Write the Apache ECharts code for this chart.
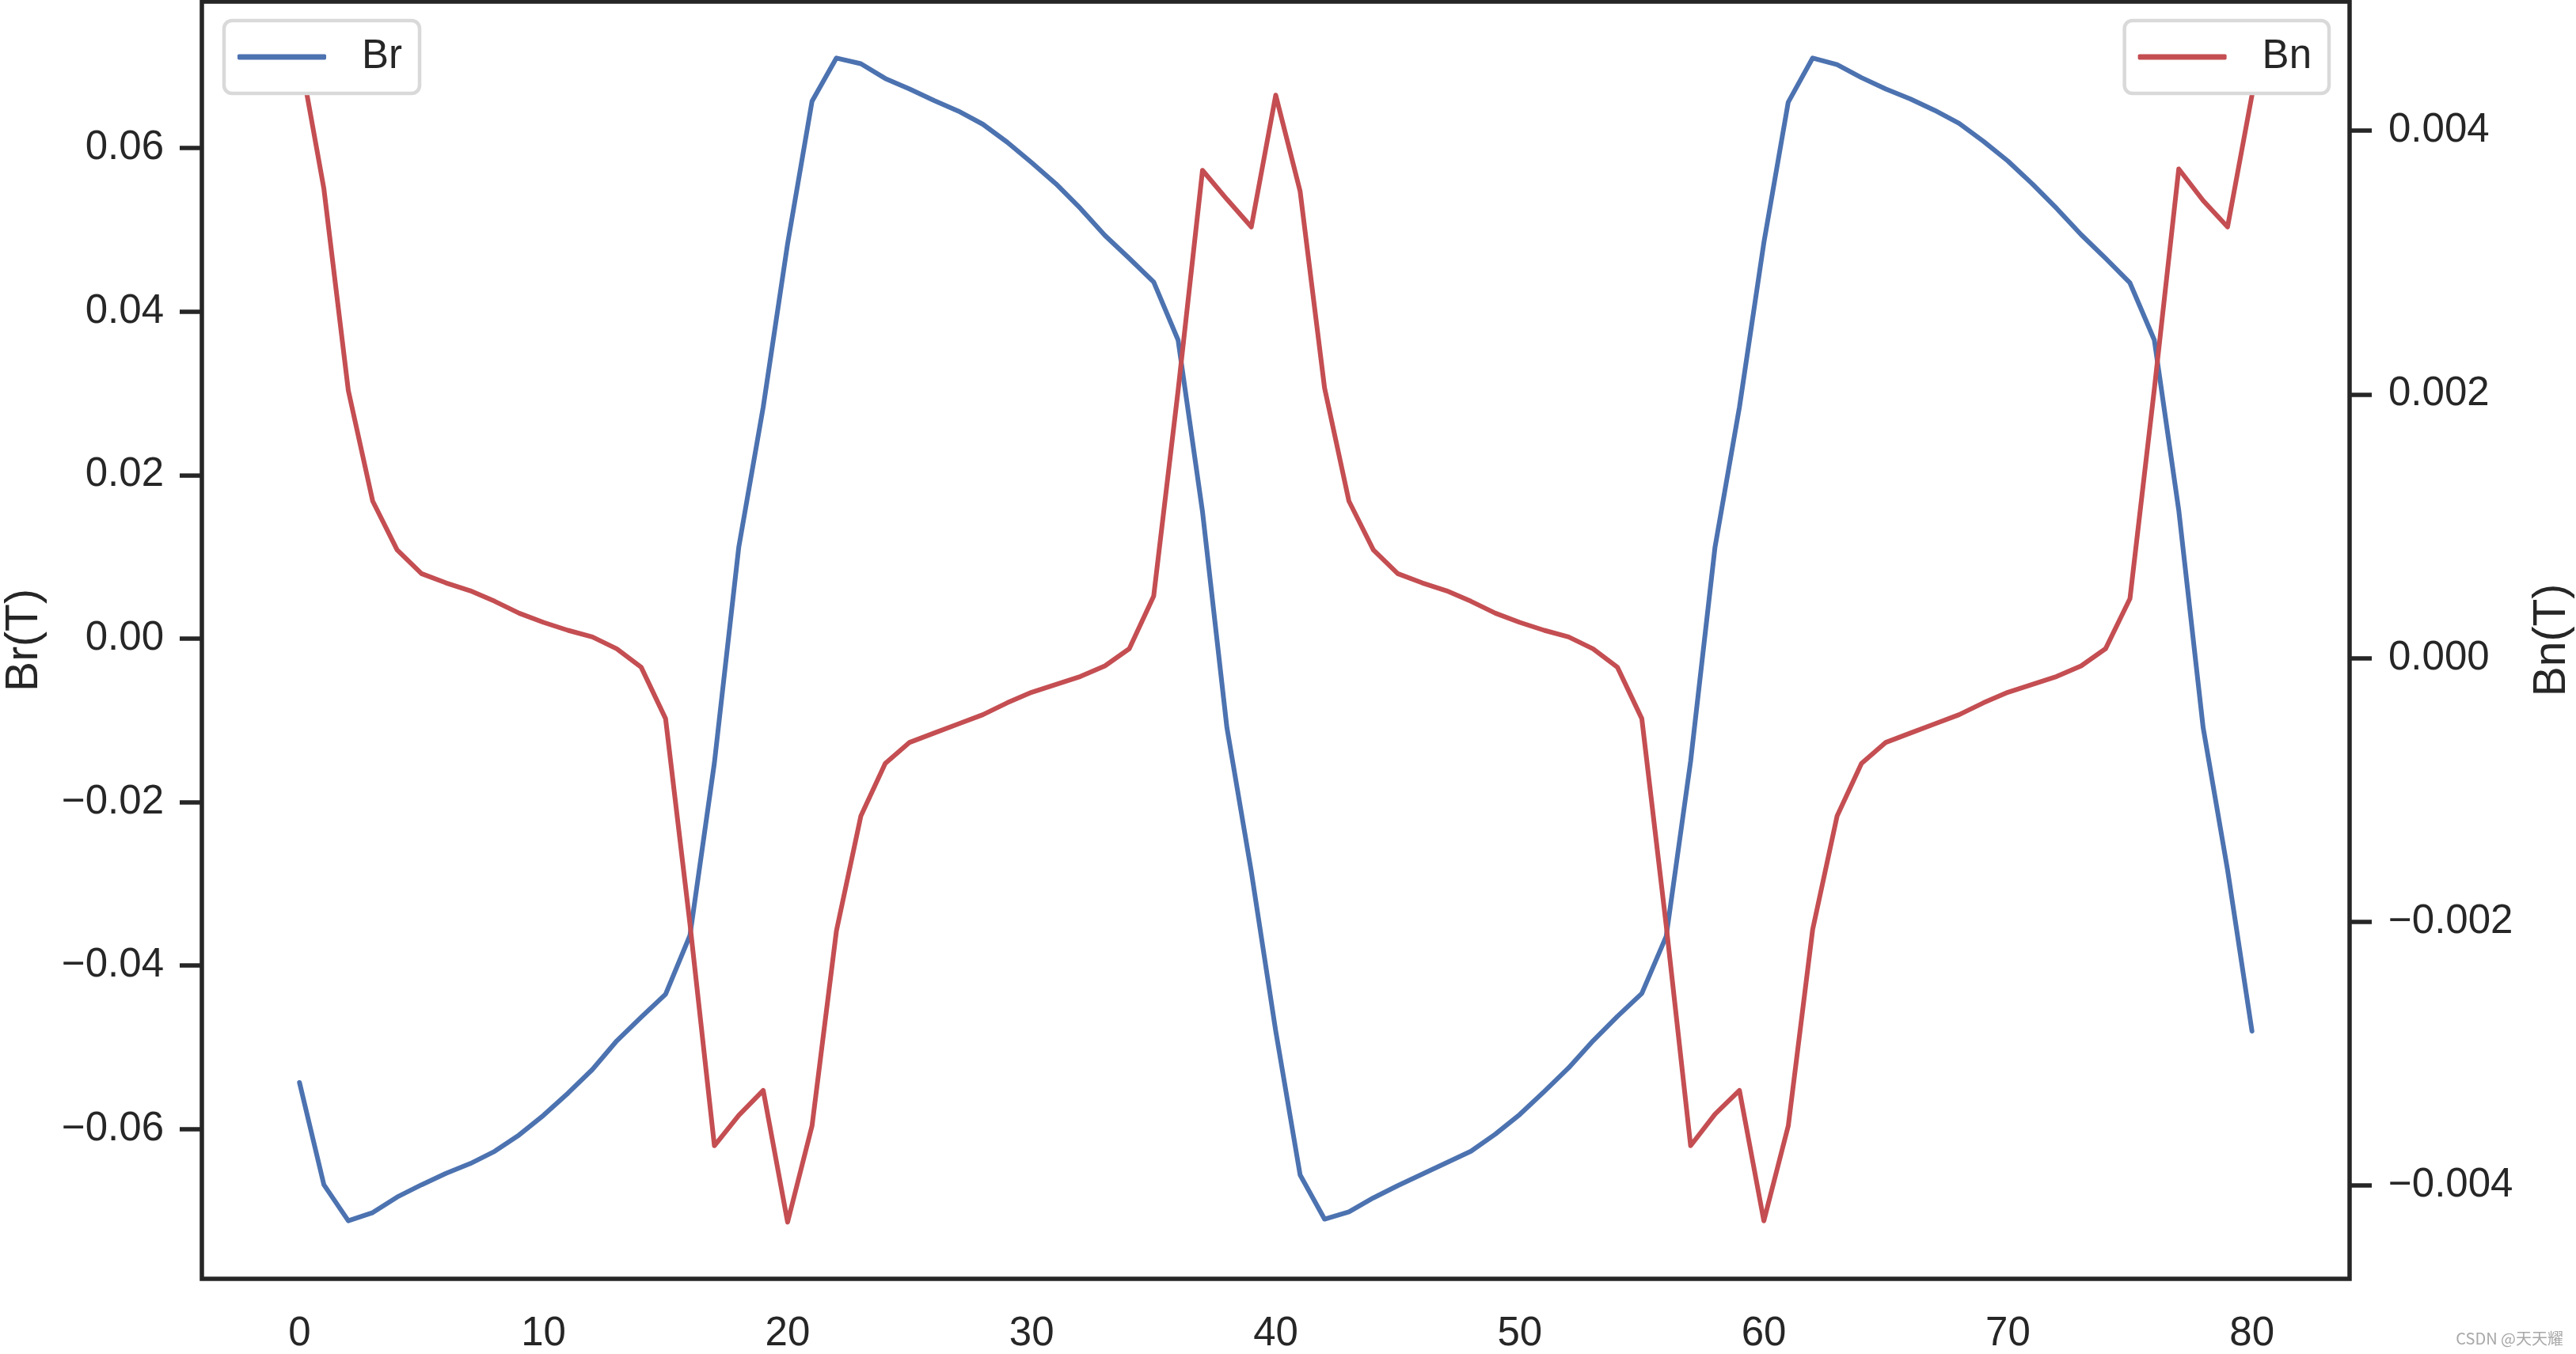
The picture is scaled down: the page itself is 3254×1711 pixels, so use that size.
<!DOCTYPE html>
<html>
<head>
<meta charset="utf-8">
<script src="https://cdn.jsdelivr.net/npm/echarts@6/dist/echarts.min.js"></script>
<style>
html,body{margin:0;padding:0;background:#fff;}
#chart{width:3254px;height:1711px;}
</style>
</head>
<body>
<div id="chart"></div>
<script>
var xValues = [0,1,2,3,4,5,6,7,8,9,10,11,12,13,14,15,16,17,18,19,20,21,22,23,24,25,26,27,28,29,30,31,32,33,34,35,36,37,38,39,40,41,42,43,44,45,46,47,48,49,50,51,52,53,54,55,56,57,58,59,60,61,62,63,64,65,66,67,68,69,70,71,72,73,74,75,76,77,78,79,80];

var brValues = [
  -0.0543,-0.0668,-0.0712,-0.0702,-0.0683,-0.0668,-0.0654,-0.0642,-0.0627,-0.0607,
  -0.0583,-0.0556,-0.0527,-0.0492,-0.0463,-0.0435,-0.0363,-0.0152,0.0112,0.0283,
  0.0483,0.0657,0.0710,0.0703,0.0685,0.0672,0.0658,0.0645,0.0629,0.0607,
  0.0582,0.0556,0.0526,0.0493,0.0465,0.0436,0.0365,0.0155,-0.0109,-0.0285,
  -0.0480,-0.0656,-0.0710,-0.0701,-0.0684,-0.0669,-0.0655,-0.0641,-0.0627,-0.0606,
  -0.0582,-0.0554,-0.0525,-0.0492,-0.0462,-0.0434,-0.0364,-0.0150,0.0112,0.0283,
  0.0484,0.0656,0.0710,0.0702,0.0686,0.0672,0.0660,0.0646,0.0630,0.0608,
  0.0584,0.0556,0.0526,0.0494,0.0465,0.0435,0.0365,0.0157,-0.0109,-0.0283,
  -0.0480
];

var bnValues = [
  0.00459,0.00356,0.00203,0.00119,0.00082,0.00064,0.00057,0.00051,0.00043,0.00034,
  0.00027,0.00021,0.00016,0.00007,-0.00007,-0.00046,-0.00202,-0.00370,-0.00347,-0.00328,
  -0.00428,-0.00355,-0.00207,-0.00120,-0.00080,-0.00064,-0.00057,-0.00050,-0.00043,-0.00034,
  -0.00026,-0.00020,-0.00014,-0.00006,0.00007,0.00047,0.00203,0.00370,0.00348,0.00327,
  0.00427,0.00354,0.00205,0.00119,0.00082,0.00064,0.00057,0.00051,0.00043,0.00034,
  0.00027,0.00021,0.00016,0.00007,-0.00007,-0.00046,-0.00203,-0.00370,-0.00346,-0.00328,
  -0.00427,-0.00355,-0.00206,-0.00120,-0.00080,-0.00064,-0.00057,-0.00050,-0.00043,-0.00034,
  -0.00026,-0.00020,-0.00014,-0.00006,0.00007,0.00045,0.00204,0.00371,0.00347,0.00327,
  0.00427
];

var xTicks = [0,10,20,30,40,50,60,70,80];
var brTicks = [-0.06,-0.04,-0.02,0,0.02,0.04,0.06];
var bnTicks = [-0.004,-0.002,0,0.002,0.004];

function fmt(v, d) {
  var s = Math.abs(v).toFixed(d);
  return (v < -1e-12 ? '\u2212' : '') + s;
}

var FONT = '"Liberation Sans", Arial, sans-serif';
var INK = '#262626';

var chart = echarts.init(document.getElementById('chart'), null, {renderer: 'canvas'});

var brData = xValues.map(function (x, i) { return [x, brValues[i]]; });
var bnData = xValues.map(function (x, i) { return [x, bnValues[i]]; });

var legendCommon = {
  top: 26,
  orient: 'horizontal',
  itemWidth: 112,
  itemHeight: 7,
  icon: 'roundRect',
  backgroundColor: '#ffffff',
  borderColor: '#d9d9d9',
  borderWidth: 4.5,
  borderRadius: 10,
  padding: [20, 22, 20, 17],
  textStyle: {
    fontFamily: FONT,
    fontSize: 51,
    color: INK,
    lineHeight: 52,
    padding: [0, 0, 0, 40]
  }
};

var option = {
  animation: false,
  backgroundColor: '#ffffff',
  grid: {
    left: 255, right: 286, top: 2, bottom: 95,
    containLabel: false,
    outerBoundsMode: 'none',
    show: true,
    borderColor: INK,
    borderWidth: 5.5,
    backgroundColor: 'transparent'
  },
  legend: [
    Object.assign({}, legendCommon, {data: ['Br'], left: 283}),
    Object.assign({}, legendCommon, {data: ['Bn'], right: 312})
  ],
  xAxis: {
    type: 'value',
    min: -4,
    max: 84,
    axisLine: {show: false, onZero: false},
    axisTick: {show: false},
    splitLine: {show: false},
    axisLabel: {
      customValues: xTicks,
      margin: 44,
      fontFamily: FONT,
      fontSize: 51,
      color: INK,
      formatter: function (v) { return String(v); }
    }
  },
  yAxis: [
    {
      type: 'value',
      position: 'left',
      min: -0.0783,
      max: 0.0779,
      name: 'Br(T)',
      nameLocation: 'middle',
      nameRotate: 90,
      nameGap: 195,
      nameTextStyle: {fontFamily: FONT, fontSize: 57, color: INK},
      axisLine: {show: false, onZero: false},
      axisTick: {show: true, customValues: brTicks, length: 28, lineStyle: {color: INK, width: 5.5}},
      splitLine: {show: false},
      axisLabel: {
        customValues: brTicks,
        margin: 48,
        fontFamily: FONT,
        fontSize: 51,
        color: INK,
        formatter: function (v) { return fmt(v, 2); }
      }
    },
    {
      type: 'value',
      position: 'right',
      min: -0.00471,
      max: 0.00498,
      name: 'Bn(T)',
      nameLocation: 'middle',
      nameRotate: 90,
      nameGap: 228,
      nameTextStyle: {fontFamily: FONT, fontSize: 57, color: INK},
      axisLine: {show: false, onZero: false},
      axisTick: {show: true, customValues: bnTicks, length: 28, lineStyle: {color: INK, width: 5.5}},
      splitLine: {show: false},
      axisLabel: {
        customValues: bnTicks,
        margin: 49,
        fontFamily: FONT,
        fontSize: 51,
        color: INK,
        formatter: function (v) { return fmt(v, 3); }
      }
    }
  ],
  series: [
    {
      name: 'Br',
      type: 'line',
      yAxisIndex: 0,
      data: brData,
      symbol: 'none',
      color: '#4c72b0',
      lineStyle: {color: '#4c72b0', width: 6, cap: 'round', join: 'round'}
    },
    {
      name: 'Bn',
      type: 'line',
      yAxisIndex: 1,
      data: bnData,
      symbol: 'none',
      color: '#c44e52',
      lineStyle: {color: '#c44e52', width: 6, cap: 'round', join: 'round'}
    }
  ],
  graphic: [
    {
      type: 'text',
      right: 16,
      top: 1681,
      style: {
        text: 'CSDN @天天耀',
        fontFamily: '"Noto Sans CJK SC", "Liberation Sans", sans-serif',
        fontSize: 20,
        fill: '#a8a8a8'
      }
    }
  ]
};

chart.setOption(option);
</script>
</body>
</html>
